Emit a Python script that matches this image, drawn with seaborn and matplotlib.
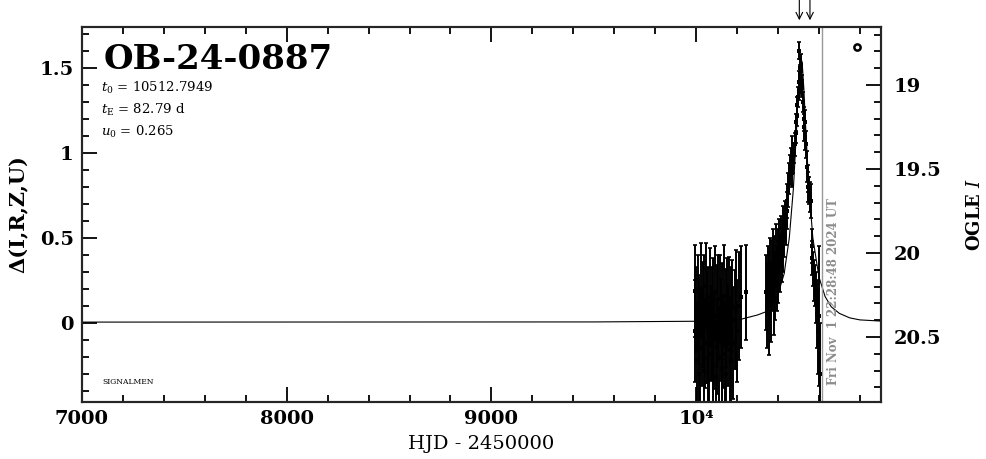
import numpy as np
import pandas as pd
import matplotlib
matplotlib.use("Agg")
import matplotlib.pyplot as plt
import seaborn as sns
from matplotlib.ticker import MultipleLocator, FixedLocator, FixedFormatter

# ---------------- data ----------------
event_name = "OB-24-0887"
param_lines = [r"$t_0$ = 10512.7949", r"$t_{\rm E}$ = 82.79 d", r"$u_0$ = 0.265"]
now_label = "Fri Nov  1 22:28:48 2024 UT"
now_hjd = 10616.44
arrow_times = [10504, 10556]

# model curve (HJD-2450000, delta flux)
model_t = [7000, 9500, 10000, 10200, 10300, 10350, 10400, 10430, 10455, 10475,
           10490, 10500, 10508, 10513, 10518, 10526, 10535, 10550, 10570, 10600,
           10630, 10660, 10700, 10750, 10800, 10903]
model_d = [0.005, 0.006, 0.010, 0.016, 0.047, 0.070, 0.170, 0.290, 0.500, 0.790,
           1.130, 1.390, 1.530, 1.555, 1.530, 1.380, 1.150, 0.810, 0.500, 0.270,
           0.155, 0.095, 0.056, 0.030, 0.018, 0.011]

# season 1 (noisy baseline)
t1 = [9992, 9996, 10000, 10004, 10008, 10012, 10016, 10020, 10024, 10028,
      10032, 10036, 10040, 10044, 10048, 10052, 10056, 10060, 10064, 10068,
      10072, 10076, 10080, 10084, 10088, 10092, 10096, 10100, 10104, 10108,
      10112, 10116, 10120, 10124, 10128, 10132, 10136, 10140, 10144, 10148,
      10152, 10156, 10160, 10164, 10168, 10172, 10176, 10182, 10188, 10194,
      10200, 10208, 10220, 10243]
d1 = [0.19, -0.05, 0.08, -0.22, 0.12, -0.30, 0.02, -0.15, 0.20, -0.08,
      0.05, -0.28, 0.10, -0.12, 0.22, -0.02, -0.35, 0.06, -0.18, 0.15,
      -0.06, 0.00, -0.25, 0.12, -0.10, 0.18, -0.32, 0.04, -0.14, 0.09,
      -0.20, 0.14, -0.04, -0.27, 0.07, -0.11, 0.16, -0.18, 0.03, -0.30,
      0.11, -0.07, 0.13, -0.16, 0.05, -0.22, 0.10, -0.12, 0.02, 0.08,
      -0.05, 0.10, 0.15, 0.18]
e1 = [0.27, 0.30, 0.25, 0.32, 0.28, 0.30, 0.26, 0.33, 0.27, 0.29,
      0.31, 0.28, 0.30, 0.26, 0.25, 0.32, 0.30, 0.27, 0.31, 0.29,
      0.28, 0.33, 0.30, 0.26, 0.29, 0.27, 0.32, 0.30, 0.28, 0.31,
      0.29, 0.26, 0.30, 0.33, 0.28, 0.27, 0.30, 0.31, 0.29, 0.32,
      0.27, 0.30, 0.26, 0.31, 0.28, 0.30, 0.27, 0.33, 0.29, 0.35,
      0.30, 0.32, 0.30, 0.28]

# rising part
t2 = [10342, 10346, 10350, 10354, 10358, 10362, 10366, 10370, 10374, 10378,
      10382, 10386, 10390, 10394, 10398, 10402, 10406, 10410, 10414, 10418,
      10422, 10426, 10430, 10434, 10438, 10442, 10446, 10450, 10454, 10458,
      10462, 10466]
d2 = [0.18, 0.10, 0.25, 0.05, 0.20, 0.30, 0.12, 0.28, 0.35, 0.15,
      0.32, 0.22, 0.40, 0.26, 0.38, 0.30, 0.45, 0.35, 0.48, 0.40,
      0.55, 0.45, 0.52, 0.60, 0.58, 0.66, 0.72, 0.78, 0.85, 0.90,
      0.95, 1.02]
e2 = [0.22, 0.25, 0.20, 0.24, 0.22, 0.20, 0.23, 0.21, 0.20, 0.22,
      0.19, 0.20, 0.18, 0.19, 0.17, 0.18, 0.16, 0.17, 0.15, 0.16,
      0.14, 0.15, 0.13, 0.12, 0.12, 0.11, 0.10, 0.10, 0.09, 0.09,
      0.08, 0.08]

# peak
t3 = [10470, 10474, 10478, 10482, 10486, 10489, 10492, 10495, 10498, 10500,
      10502, 10504, 10506, 10508, 10510, 10512, 10514, 10516, 10518, 10520]
d3 = [0.88, 0.95, 1.00, 1.05, 1.12, 1.18, 1.22, 1.28, 1.33, 1.36,
      1.60, 1.42, 1.47, 1.50, 1.52, 1.48, 1.45, 1.40, 1.38, 1.30]
e3 = [0.08, 0.07, 0.06, 0.07, 0.06, 0.05, 0.06, 0.05, 0.06, 0.05,
      0.05, 0.06, 0.05, 0.05, 0.06, 0.05, 0.05, 0.06, 0.05, 0.06]

# decline
t4 = [10525, 10528, 10531, 10534, 10537, 10540, 10544, 10548, 10552, 10556,
      10560, 10564, 10568, 10572, 10576, 10580, 10585, 10590, 10596, 10601,
      10606]
d4 = [1.20, 1.15, 1.18, 1.10, 1.05, 0.92, 0.85, 0.80, 0.78, 0.74,
      0.72, 0.45, 0.38, 0.32, 0.25, 0.22, 0.15, 0.05, -0.05, 0.04,
      -0.30]
e4 = [0.07, 0.08, 0.07, 0.08, 0.08, 0.09, 0.08, 0.09, 0.08, 0.09,
      0.10, 0.10, 0.10, 0.10, 0.12, 0.12, 0.15, 0.20, 0.25, 0.41,
      0.30]

x_ticks = [7000, 8000, 9000, 10000]
x_ticklabels = ["7000", "8000", "9000", "10\u2074"]
y_ticks = [0, 0.5, 1, 1.5]
y_ticklabels = ["0", "0.5", "1", "1.5"]
mag_ticks = [19, 19.5, 20, 20.5]
mag_ticklabels = ["19", "19.5", "20", "20.5"]

# ---------------- style ----------------
sns.set_theme(style="ticks")
plt.rcParams["font.family"] = ["DejaVu Serif"]
plt.rcParams["mathtext.fontset"] = "dejavuserif"
plt.rcParams["text.color"] = "black"
plt.rcParams["axes.labelcolor"] = "black"
plt.rcParams["xtick.color"] = "black"
plt.rcParams["ytick.color"] = "black"

obs = pd.DataFrame({
    "t": t1 + t2 + t3 + t4,
    "d": d1 + d2 + d3 + d4,
    "e": e1 + e2 + e3 + e4,
})
model = pd.DataFrame({"t": model_t, "d": model_d})

W, H = 986, 459
fig = plt.figure(figsize=(W / 100, H / 100), dpi=100)
L, R, T, B = 82, 881, 27, 402
ax = fig.add_axes([L / W, 1 - B / H, (R - L) / W, (B - T) / H])

ax.set_xlim(7000, 10903)
ax.set_ylim(-0.465, 1.741)

# model curve
sns.lineplot(data=model, x="t", y="d", ax=ax, color="black", lw=0.8,
             sort=True, estimator=None)

# error bars
ax.errorbar(obs["t"], obs["d"], yerr=obs["e"], fmt="none", ecolor="black",
            elinewidth=1.4, capsize=1.6, capthick=1.2, zorder=3)
sns.scatterplot(data=obs, x="t", y="d", ax=ax, color="black", s=5,
                marker="s", edgecolor="black", linewidth=0, zorder=4)

# current time line + label
ax.axvline(now_hjd, color="#999999", lw=1.0, zorder=2)
ax.annotate(now_label, xy=(now_hjd, 0.045), xycoords=("data", "axes fraction"),
            xytext=(3, 0), textcoords="offset points", rotation=90,
            ha="left", va="bottom", fontsize=8.5, fontweight="bold",
            color="#8c8c8c")

# arrows above plot
for ta in arrow_times:
    ax.annotate("", xy=(ta, 1.018), xycoords=("data", "axes fraction"),
                xytext=(ta, 1.075), textcoords=("data", "axes fraction"),
                arrowprops=dict(arrowstyle="->", lw=0.8, color="black",
                                shrinkA=0, shrinkB=0),
                annotation_clip=False)

# texts
ax.text(0.027, 0.889, event_name, transform=ax.transAxes, fontsize=24.5,
        fontweight="bold", ha="left", va="baseline", color="black")
for i, s in enumerate(param_lines):
    ax.text(0.024, 0.826 - i * 0.058, s, transform=ax.transAxes, fontsize=9.5,
            ha="left", va="baseline", color="black")
ax.text(0.026, 0.048, "SIGNALMEN", transform=ax.transAxes, fontsize=5.5,
        ha="left", va="baseline", color="black")
ax.plot([0.97], [0.947], transform=ax.transAxes, marker="o", ms=4.5,
        mfc="white", mec="black", mew=1.8, clip_on=False)

# axes formatting
for sp in ax.spines.values():
    sp.set_linewidth(1.5)
    sp.set_color("black")
ax.xaxis.set_major_locator(FixedLocator(x_ticks))
ax.xaxis.set_major_formatter(FixedFormatter(x_ticklabels))
ax.xaxis.set_minor_locator(MultipleLocator(200))
ax.yaxis.set_major_locator(FixedLocator(y_ticks))
ax.yaxis.set_major_formatter(FixedFormatter(y_ticklabels))
ax.yaxis.set_minor_locator(MultipleLocator(0.1))
ax.tick_params(which="both", direction="in", top=True, right=False,
               colors="black", width=1.3)
ax.tick_params(which="major", length=10.5, labelsize=14, pad=6)
ax.tick_params(which="minor", length=5)
for lab in ax.get_xticklabels() + ax.get_yticklabels():
    lab.set_fontweight("bold")
ax.set_xlabel("HJD - 2450000", fontsize=14, labelpad=5)
ax.set_ylabel("Δ(I,R,Z,U)", fontsize=15, fontweight="bold", labelpad=8)

# right magnitude axis
ax2 = ax.twinx()
ax2.set_ylim(20.887, 18.655)
ax2.yaxis.set_major_locator(FixedLocator(mag_ticks))
ax2.yaxis.set_major_formatter(FixedFormatter(mag_ticklabels))
ax2.yaxis.set_minor_locator(MultipleLocator(0.1))
ax2.tick_params(which="both", direction="in", right=True, left=False,
                colors="black", width=1.3)
ax2.tick_params(which="major", length=10.5, labelsize=14, pad=9)
ax2.tick_params(which="minor", length=5)
for lab in ax2.get_yticklabels():
    lab.set_fontweight("bold")
for sp in ax2.spines.values():
    sp.set_linewidth(1.5)
ax2.set_ylabel(r"OGLE $I$", fontsize=13, fontweight="bold", labelpad=18)
ax2.grid(False)
ax.grid(False)

fig.savefig("out.png", dpi=100)
